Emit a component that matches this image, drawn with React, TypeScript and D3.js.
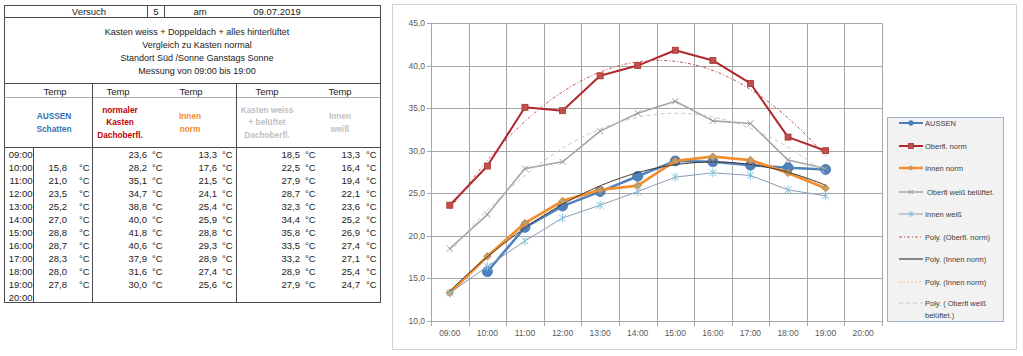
import React from 'react';
import * as d3 from 'd3';

// ---------- data ----------
const times = ["09:00", "10:00", "11:00", "12:00", "13:00", "14:00", "15:00", "16:00", "17:00", "18:00", "19:00", "20:00"];
const aussen: (number | null)[] = [null, 15.8, 21.0, 23.5, 25.2, 27.0, 28.8, 28.7, 28.3, 28.0, 27.8, null];
const oberflNorm: (number | null)[] = [23.6, 28.2, 35.1, 34.7, 38.8, 40.0, 41.8, 40.6, 37.9, 31.6, 30.0, null];
const innenNorm: (number | null)[] = [13.3, 17.6, 21.5, 24.1, 25.4, 25.9, 28.8, 29.3, 28.9, 27.4, 25.6, null];
const oberflWeiss: (number | null)[] = [18.5, 22.5, 27.9, 28.7, 32.3, 34.4, 35.8, 33.5, 33.2, 28.9, 27.9, null];
const innenWeiss: (number | null)[] = [13.3, 16.4, 19.4, 22.1, 23.6, 25.2, 26.9, 27.4, 27.1, 25.4, 24.7, null];
const yTicks = [10, 15, 20, 25, 30, 35, 40, 45];

const headerInfo = ["Versuch", "5", "am", "09.07.2019"];
const descLines = [
  "Kasten weiss + Doppeldach + alles hinterlüftet",
  "Vergleich zu Kasten normal",
  "Standort Süd /Sonne  Ganstags Sonne",
  "Messung von 09:00 bis 19:00",
];
const colHeads = [
  ["AUSSEN", "Schatten"],
  ["normaler", "Kasten", "Dachoberfl."],
  ["Innen", "norm"],
  ["Kasten weiss", "+ belüftet", "Dachoberfl."],
  ["Innen", "weiß"],
];
const legendLabels = [
  "AUSSEN",
  "Oberfl. norm",
  "Innen norm",
  "Oberfl weiß belüftet.",
  "Innen weiß",
  "Poly. (Oberfl. norm)",
  "Poly. (Innen norm)",
  "Poly. (Innen norm)",
  "Poly. ( Oberfl weiß|belüftet.)",
];

// ---------- helpers ----------
const FONT = "'Liberation Sans Narrow', 'Liberation Sans', Arial, sans-serif";
const fmt = (v: number) => d3.format(".1f")(v).replace(".", ",");

function quadFit(vals: (number | null)[]) {
  const pts: [number, number][] = [];
  vals.forEach((v, i) => { if (v != null) pts.push([i + 1, v]); });
  const S = [0, 0, 0, 0, 0];
  const T = [0, 0, 0];
  for (const [x, y] of pts) {
    for (let k = 0; k < 5; k++) S[k] += Math.pow(x, k);
    for (let k = 0; k < 3; k++) T[k] += y * Math.pow(x, k);
  }
  const A = [[S[0], S[1], S[2], T[0]], [S[1], S[2], S[3], T[1]], [S[2], S[3], S[4], T[2]]];
  for (let i = 0; i < 3; i++) {
    for (let j = i + 1; j < 3; j++) {
      const f = A[j][i] / A[i][i];
      for (let k = i; k < 4; k++) A[j][k] -= f * A[i][k];
    }
  }
  const c = [0, 0, 0];
  for (let i = 2; i >= 0; i--) {
    let s = A[i][3];
    for (let k = i + 1; k < 3; k++) s -= A[i][k] * c[k];
    c[i] = s / A[i][i];
  }
  return { f: (x: number) => c[0] + c[1] * x + c[2] * x * x, x0: pts[0][0], x1: pts[pts.length - 1][0] };
}

// ---------- chart geometry ----------
const x = d3.scaleBand<string>().domain(times).range([431, 882]).padding(0);
const bw = x.bandwidth();
const xc = (t: string) => (x(t) as number) + bw / 2;
const xi = d3.scaleLinear().domain([1, times.length]).range([xc(times[0]), xc(times[times.length - 1])]);
const y = d3.scaleLinear().domain([10, 45]).range([321, 23]);

function seriesPath(vals: (number | null)[]) {
  const line = d3.line<number | null>()
    .defined((d) => d != null)
    .x((_, i) => xc(times[i]))
    .y((d) => y(d as number));
  return line(vals) || "";
}

function trendPath(vals: (number | null)[]) {
  const fit = quadFit(vals);
  const n = 80;
  const xs = d3.range(n + 1).map((k) => fit.x0 + (fit.x1 - fit.x0) * k / n);
  return d3.line<number>().x((v) => xi(v)).y((v) => y(fit.f(v))).curve(d3.curveLinear)(xs) || "";
}

const Circle = ({ cx, cy, r, fill }: any) => <circle cx={cx} cy={cy} r={r} fill={fill} stroke="#3f6fa8" strokeWidth={0.8} />;
const Square = ({ cx, cy, s }: any) => <rect x={cx - s / 2} y={cy - s / 2} width={s} height={s} fill="#c0504d" stroke="#a8322f" strokeWidth={0.8} />;
const Diamond = ({ cx, cy, s }: any) => (
  <path d={`M${cx},${cy - s}L${cx + s},${cy}L${cx},${cy + s}L${cx - s},${cy}Z`} fill="#b9a070" stroke="#d9782a" strokeWidth={0.8} />
);
const XMark = ({ cx, cy, s }: any) => (
  <path d={`M${cx - s},${cy - s}L${cx + s},${cy + s}M${cx - s},${cy + s}L${cx + s},${cy - s}`} stroke="#9a9a9a" strokeWidth={1} fill="none" />
);
const Star = ({ cx, cy, s }: any) => (
  <path d={`M${cx - s},${cy - s}L${cx + s},${cy + s}M${cx - s},${cy + s}L${cx + s},${cy - s}M${cx},${cy - s * 1.3}L${cx},${cy + s * 1.3}`} stroke="#7fc4dc" strokeWidth={1} fill="none" />
);

function markers(vals: (number | null)[], render: (cx: number, cy: number, i: number) => React.ReactNode) {
  return vals.map((v, i) => (v == null ? null : <g key={i}>{render(xc(times[i]), y(v), i)}</g>));
}

// ---------- table geometry ----------
const TL = 4.5, TR = 380.5, TT = 5.5, TB = 302.5;
const rowY0 = 154, rowStep = 13;
const valEnds = [67, 147, 217, 300, 360];
const degStarts = [79, 152, 222, 305, 366];
const dataCols = [aussen, oberflNorm, innenNorm, oberflWeiss, innenWeiss];
const headColors = ["#2e75b6", "#c00000", "#f08a30", "#bfbfbf", "#bfbfbf"];
const headCenters = [54, 120, 190, 267, 340];
const tempCenters = [55, 118, 191, 267, 340];

export default function App() {
  const lineColor = "#4a4a4a";
  const legendTop = [123, 146, 168, 192, 214, 237, 259, 282, 303];
  return (
    <svg width={1023} height={356} style={{ position: 'absolute', left: 0, top: 0, background: '#fff' }} fontFamily={FONT}>
      {/* ---------------- TABLE ---------------- */}
      <g>
        <rect x={TL} y={TT} width={TR - TL} height={TB - TT} fill="#fff" stroke={lineColor} strokeWidth={1} />
        <line x1={TL} x2={TR} y1={17.5} y2={17.5} stroke={lineColor} />
        <line x1={147.5} x2={147.5} y1={TT} y2={17.5} stroke={lineColor} />
        <line x1={164.5} x2={164.5} y1={TT} y2={17.5} stroke={lineColor} />
        <line x1={TL} x2={TR} y1={83.5} y2={83.5} stroke={lineColor} />
        <line x1={TL} x2={TR} y1={97.5} y2={97.5} stroke="#b0b0b0" />
        <line x1={TL} x2={TR} y1={147.5} y2={147.5} stroke={lineColor} />
        <line x1={92.5} x2={92.5} y1={83.5} y2={TB} stroke={lineColor} />
        <line x1={236.5} x2={236.5} y1={83.5} y2={TB} stroke={lineColor} />
        <line x1={33.5} x2={33.5} y1={147.5} y2={TB} stroke={lineColor} />
        <g fontSize={9.5} fill="#222" textAnchor="middle" dominantBaseline="central">
          <text x={89} y={11.5}>{headerInfo[0]}</text>
          <text x={156} y={11.5}>{headerInfo[1]}</text>
          <text x={200} y={11.5}>{headerInfo[2]}</text>
          <text x={277} y={11.5}>{headerInfo[3]}</text>
          {descLines.map((t, i) => (
            <text key={i} x={197} y={32 + i * 13} fontSize={9}>{t}</text>
          ))}
          {tempCenters.map((cx, i) => (
            <text key={i} x={cx} y={91}>Temp</text>
          ))}
        </g>
        <g fontSize={8.3} fontWeight="bold" textAnchor="middle" dominantBaseline="central">
          {colHeads.map((lines, c) => {
            const start = lines.length === 3 ? 109.5 : 116;
            return lines.map((t, k) => (
              <text key={c + '-' + k} x={headCenters[c]} y={start + k * 12.5} fill={headColors[c]}>{t}</text>
            ));
          })}
        </g>
        <g fontSize={9.5} fill="#222" dominantBaseline="central">
          {times.map((t, r) => (
            <text key={t} x={32.5} y={rowY0 + r * rowStep} textAnchor="end">{t}</text>
          ))}
          {dataCols.map((col, c) =>
            col.map((v, r) =>
              v == null ? null : (
                <g key={c + '-' + r}>
                  <text x={valEnds[c]} y={rowY0 + r * rowStep} textAnchor="end">{fmt(v)}</text>
                  <text x={degStarts[c]} y={rowY0 + r * rowStep}>°C</text>
                </g>
              )
            )
          )}
        </g>
      </g>

      {/* ---------------- CHART ---------------- */}
      <rect x={392.5} y={4.5} width={624} height={345} fill="#fff" stroke="#d4d4d4" strokeWidth={1} />
      <g stroke="#a6a6a6" strokeWidth={1}>
        {yTicks.map((t) => (
          <line key={t} x1={427} x2={882} y1={Math.round(y(t)) + 0.5} y2={Math.round(y(t)) + 0.5} />
        ))}
        {times.map((t, i) => {
          const gx = Math.round((x(t) as number) + bw) + 0.5;
          return <line key={t} x1={gx} x2={gx} y1={Math.round(y(45)) + 0.5} y2={Math.round(y(10)) + 5} />;
        })}
        <line x1={431.5} x2={431.5} y1={Math.round(y(45)) + 0.5} y2={Math.round(y(10)) + 5} />
      </g>
      <g fontSize={8.5} fill="#595959" textAnchor="end" dominantBaseline="central">
        {yTicks.map((t) => (
          <text key={t} x={425} y={y(t)}>{fmt(t)}</text>
        ))}
      </g>
      <g fontSize={8.5} fill="#595959" textAnchor="middle" dominantBaseline="central">
        {times.map((t) => (
          <text key={t} x={xc(t)} y={333}>{t}</text>
        ))}
      </g>

      {/* series */}
      <path d={seriesPath(aussen)} fill="none" stroke="#4f81bd" strokeWidth={2.5} strokeLinejoin="round" />
      {markers(aussen, (cx, cy) => <Circle cx={cx} cy={cy} r={5} fill="#4f81bd" />)}
      <path d={seriesPath(oberflNorm)} fill="none" stroke="#b0272c" strokeWidth={2} strokeLinejoin="round" />
      {markers(oberflNorm, (cx, cy) => <Square cx={cx} cy={cy} s={6} />)}
      <path d={seriesPath(innenNorm)} fill="none" stroke="#f28e2f" strokeWidth={2.8} strokeLinejoin="round" />
      {markers(innenNorm, (cx, cy) => <Diamond cx={cx} cy={cy} s={3.8} />)}
      <path d={seriesPath(oberflWeiss)} fill="none" stroke="#a6a6a6" strokeWidth={1.6} strokeLinejoin="round" />
      {markers(oberflWeiss, (cx, cy) => <XMark cx={cx} cy={cy} s={3} />)}
      <path d={seriesPath(innenWeiss)} fill="none" stroke="#8b9db3" strokeWidth={1} strokeLinejoin="round" />
      {markers(innenWeiss, (cx, cy) => <Star cx={cx} cy={cy} s={3.5} />)}

      {/* trendlines */}
      <path d={trendPath(oberflNorm)} fill="none" stroke="#c0504d" strokeWidth={1} strokeDasharray="3,2,1,2" />
      <path d={trendPath(innenNorm)} fill="none" stroke="#fac090" strokeWidth={1} strokeDasharray="2,2" />
      <path d={trendPath(innenNorm)} fill="none" stroke="#1a1a1a" strokeWidth={0.8} />
      <path d={trendPath(oberflWeiss)} fill="none" stroke="#c8c8c8" strokeWidth={1} strokeDasharray="4,3" />

      {/* legend */}
      <rect x={887.5} y={117.5} width={116} height={204} fill="#f2f2f2" stroke="#9fb3c8" strokeWidth={1} />
      <g fontSize={7.5} fill="#404040" dominantBaseline="central">
        {legendLabels.map((lab, i) => {
          const ly = legendTop[i];
          const x1 = 899, x2 = 923, mx = 911;
          let sample: React.ReactNode = null;
          if (i === 0) sample = <g><line x1={x1} x2={x2} y1={ly} y2={ly} stroke="#4f81bd" strokeWidth={2} /><Circle cx={mx} cy={ly} r={2.3} fill="#4f81bd" /></g>;
          if (i === 1) sample = <g><line x1={x1} x2={x2} y1={ly} y2={ly} stroke="#b0272c" strokeWidth={2} /><Square cx={mx} cy={ly} s={5} /></g>;
          if (i === 2) sample = <g><line x1={x1} x2={x2} y1={ly} y2={ly} stroke="#f28e2f" strokeWidth={2.5} /><Diamond cx={mx} cy={ly} s={2.3} /></g>;
          if (i === 3) sample = <g><line x1={x1} x2={x2} y1={ly} y2={ly} stroke="#a6a6a6" strokeWidth={1.5} /><XMark cx={mx} cy={ly} s={2} /></g>;
          if (i === 4) sample = <g><line x1={x1} x2={x2} y1={ly} y2={ly} stroke="#8b9db3" strokeWidth={1} /><Star cx={mx} cy={ly} s={2.2} /></g>;
          if (i === 5) sample = <line x1={x1} x2={x2} y1={ly} y2={ly} stroke="#c0504d" strokeWidth={1} strokeDasharray="3,2,1,2" />;
          if (i === 6) sample = <line x1={x1} x2={x2} y1={ly} y2={ly} stroke="#1a1a1a" strokeWidth={1} />;
          if (i === 7) sample = <line x1={x1} x2={x2} y1={ly} y2={ly} stroke="#fac090" strokeWidth={1} strokeDasharray="2,2" />;
          if (i === 8) sample = <line x1={x1} x2={x2} y1={ly} y2={ly} stroke="#c8c8c8" strokeWidth={1} strokeDasharray="4,3" />;
          const parts = lab.split("|");
          return (
            <g key={i}>
              {sample}
              {parts.map((p, k) => (
                <text key={k} x={i === 3 ? 927 : 925} y={ly + k * 12}>{p}</text>
              ))}
            </g>
          );
        })}
      </g>
    </svg>
  );
}
